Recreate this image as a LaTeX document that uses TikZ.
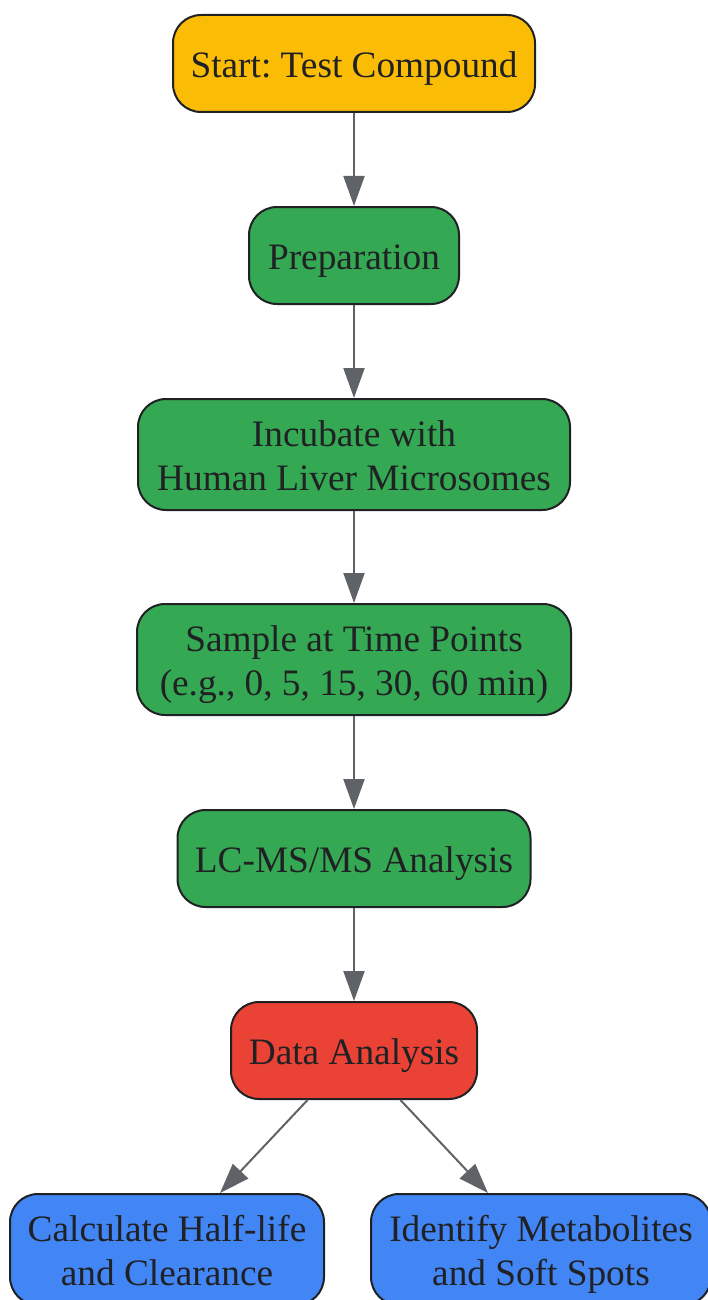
\documentclass[tikz,border=0pt]{standalone}
\usepackage{fontspec}
\setmainfont{Liberation Serif}
\usetikzlibrary{arrows.meta}
\definecolor{cyellow}{HTML}{FBBC05}
\definecolor{cgreen}{HTML}{34A853}
\definecolor{cred}{HTML}{EA4335}
\definecolor{cblue}{HTML}{4285F4}
\definecolor{cborder}{HTML}{202124}
\definecolor{carrow}{HTML}{5F6368}
\newcommand\tp{\rule{0pt}{36pt}}
\newcommand\bt{\rule[-8.4pt]{0pt}{8.4pt}}
\tikzset{
  box/.style={draw=cborder, line width=2pt, rounded corners=28pt, align=center,
    text=cborder, inner sep=0pt, font=\fontsize{37.3}{44}\selectfont\frenchspacing},
  conn/.style={draw=carrow, line width=2pt, -{Triangle[length=30pt,width=21pt]}}
}
\begin{document}
\begin{tikzpicture}[x=1pt,y=-1pt]
\useasboundingbox (0,0) rectangle (708,1300);
\node[box, fill=cyellow, minimum width=362pt, minimum height=97pt] (start) at (354,63.5) {\tp Start: Test Compound\bt};
\node[box, fill=cgreen, minimum width=210pt, minimum height=97pt] (prep) at (354,255.5) {\tp Preparation\bt};
\node[box, fill=cgreen, minimum width=432pt, minimum height=111pt] (inc) at (354,454.5) {\tp Incubate with\\Human Liver Microsomes\bt};
\node[box, fill=cgreen, minimum width=434pt, minimum height=111pt] (samp) at (354,659.5) {\tp Sample at Time Points\\(e.g., 0, 5, 15, 30, 60 min)\bt};
\node[box, fill=cgreen, minimum width=353pt, minimum height=97pt] (lcms) at (354,858.5) {\tp LC-MS/MS Analysis\bt};
\node[box, fill=cred, minimum width=246pt, minimum height=97pt] (data) at (354,1050.5) {\tp Data Analysis\bt};
\node[box, fill=cblue, minimum width=314pt, minimum height=111pt] (calc) at (167,1249.5) {\tp Calculate Half-life\\and Clearance\bt};
\node[box, fill=cblue, minimum width=340pt, minimum height=111pt] (ident) at (541,1249.5) {\tp Identify Metabolites\\and Soft Spots\bt};
\draw[conn] (start) -- (prep);
\draw[conn] (prep) -- (inc);
\draw[conn] (inc) -- (samp);
\draw[conn] (samp) -- (lcms);
\draw[conn] (lcms) -- (data);
\draw[conn] (data) -- (calc);
\draw[conn] (data) -- (ident);
\end{tikzpicture}
\end{document}
